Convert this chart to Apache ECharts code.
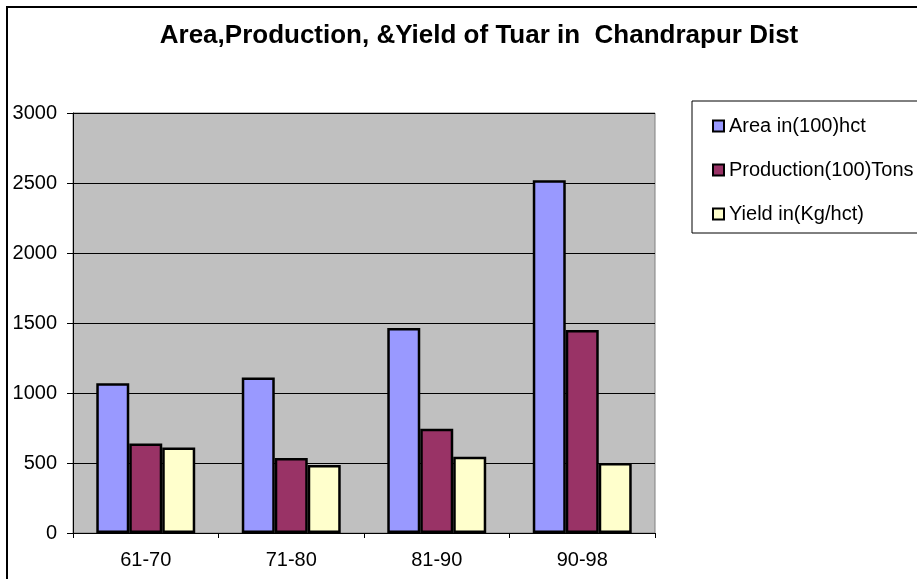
<!DOCTYPE html>
<html>
<head>
<meta charset="utf-8">
<script src="https://cdn.jsdelivr.net/npm/echarts@6/dist/echarts.min.js"></script>
<style>
  html, body { margin: 0; padding: 0; background: #fff; }
  #chart { width: 917px; height: 579px; }
</style>
</head>
<body>
<div id="chart"></div>
<script>
// data
const periods = ['61-70', '71-80', '81-90', '90-98'];
const area = [1070, 1110, 1465, 2520];
const production = [640, 535, 745, 1450];
const yieldKg = [610, 485, 545, 500];
const seriesNames = ['Area in(100)hct', 'Production(100)Tons', 'Yield in(Kg/hct)'];
const seriesColors = ['#9999FF', '#993366', '#FFFFCC'];

const font = 'Liberation Sans, Arial, sans-serif';

const chart = echarts.init(document.getElementById('chart'));

function barSeries(i, data) {
  return {
    name: seriesNames[i],
    type: 'bar',
    data: data,
    barGap: '0%',
    barCategoryGap: '32%',
    itemStyle: {
      color: seriesColors[i],
      borderColor: '#000',
      borderWidth: 2.5
    },
    emphasis: { disabled: true }
  };
}

const options = {
  animation: false,
  backgroundColor: '#fff',
  title: {
    text: 'Area,Production, &Yield of Tuar in  Chandrapur Dist',
    left: 474,
    top: 18,
    textAlign: 'center',
    textStyle: {
      fontFamily: font,
      fontWeight: 'bold',
      fontSize: 26,
      color: '#000'
    }
  },
  graphic: [
    {
      type: 'rect',
      shape: { x: 7, y: 7, width: 1000, height: 1000 },
      style: { fill: 'none', stroke: '#000', lineWidth: 2 },
      z: 0
    },
    {
      type: 'rect',
      shape: { x: 692, y: 101, width: 300, height: 132 },
      style: { fill: '#fff', stroke: '#000', lineWidth: 1 },
      z: 1
    }
  ],
  legend: {
    orient: 'vertical',
    left: 707,
    top: 111,
    itemWidth: 11,
    itemHeight: 11,
    itemGap: 24,
    icon: 'rect',
    z: 5,
    data: seriesNames,
    itemStyle: { borderColor: '#000', borderWidth: 2 },
    textStyle: {
      fontFamily: font,
      fontSize: 20,
      lineHeight: 20,
      color: '#000'
    }
  },
  grid: {
    left: 73,
    top: 113,
    right: 262,
    bottom: 46,
    show: true,
    backgroundColor: '#C0C0C0',
    borderColor: '#808080',
    borderWidth: 1
  },
  xAxis: {
    type: 'category',
    data: periods,
    axisLine: { lineStyle: { color: '#000', width: 1 } },
    axisTick: { show: true, length: 5, lineStyle: { color: '#000' } },
    axisLabel: {
      fontFamily: font,
      fontSize: 20,
      color: '#000',
      margin: 17
    }
  },
  yAxis: {
    type: 'value',
    min: 0,
    max: 3000,
    interval: 500,
    axisLine: { show: true, lineStyle: { color: '#000', width: 1 } },
    axisTick: { show: true, length: 6, lineStyle: { color: '#000' } },
    splitLine: { lineStyle: { color: '#000', width: 1 } },
    axisLabel: {
      fontFamily: font,
      fontSize: 20,
      color: '#000',
      margin: 16,
      formatter: function (v) { return String(v); }
    }
  },
  series: [
    barSeries(0, area),
    barSeries(1, production),
    barSeries(2, yieldKg)
  ]
};

chart.setOption(options);
</script>
</body>
</html>
